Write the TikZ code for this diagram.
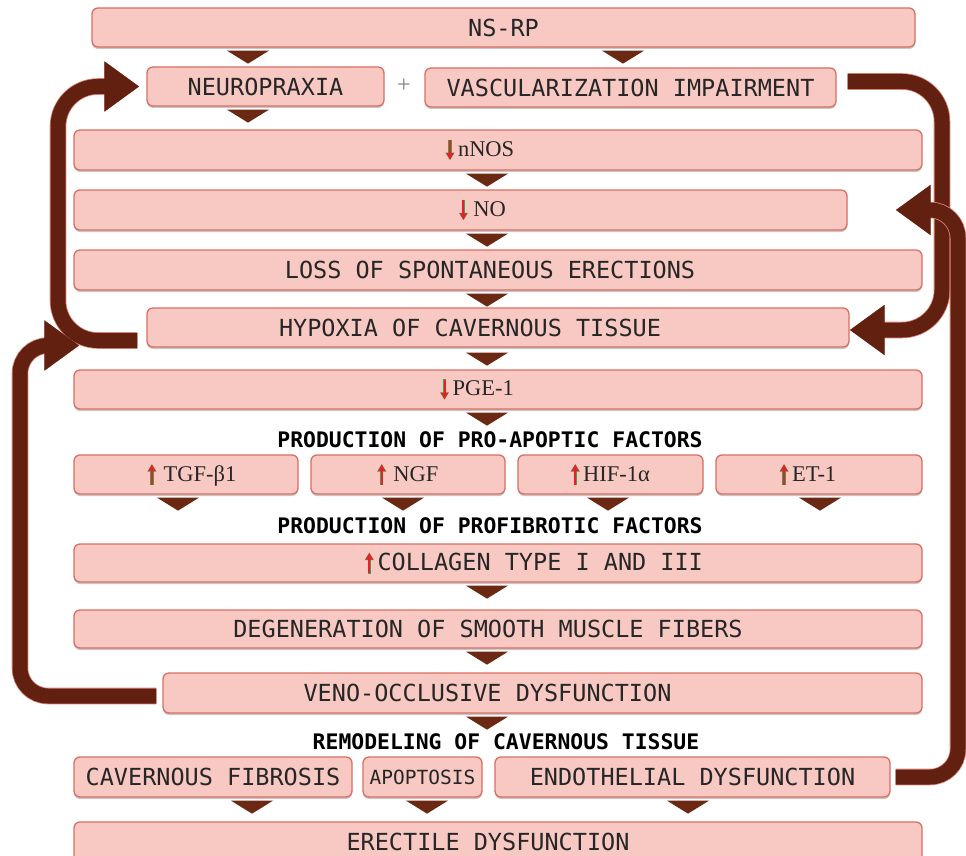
\documentclass[tikz,border=0pt]{standalone}
\usepackage{fontspec}
\setmainfont{Liberation Serif}
\setmonofont{DejaVu Sans Mono}
\usetikzlibrary{arrows.meta,shadows}
\definecolor{boxfill}{HTML}{F8C9C3}
\definecolor{boxline}{HTML}{DA6E62}
\definecolor{wedgebrown}{HTML}{6B2813}
\definecolor{loopbrown}{HTML}{622110}
\definecolor{inkred}{HTML}{E8202A}
\definecolor{inkgreen}{HTML}{3FA34D}
% small up / down marks in the text
\newcommand{\incr}{\tikz[baseline=0pt,x=1pt,y=1pt]{\draw[inkgreen,line width=3.2pt,-{Triangle[length=7.5pt,width=8.5pt]}] (0,-3.5) -- (0,17.5);\draw[inkred,line width=2pt,-{Triangle[length=6.5pt,width=7pt]}] (0,-3) -- (0,17);}}
\newcommand{\decr}{\tikz[baseline=0pt,x=1pt,y=1pt]{\draw[inkgreen,line width=3.2pt,-{Triangle[length=7.5pt,width=8.5pt]}] (0,16.5) -- (0,-4);\draw[inkred,line width=2pt,-{Triangle[length=6.5pt,width=7pt]}] (0,16) -- (0,-3.5);}}
% wedge under a box
\newcommand{\wedgeunder}[2]{\pic[yshift=-3pt] at (#2.south -| #1,0) {wedge};}
\begin{document}
\begin{tikzpicture}[x=1pt,y=-1pt,
  stage/.style={draw=boxline, fill=boxfill, line width=1.3pt, rounded corners=6pt,
    minimum height=39pt, inner sep=0pt, text=black!85,
    font=\ttfamily\fontsize{23.5}{27}\selectfont,
    drop shadow={shadow xshift=0pt, shadow yshift=-2pt, opacity=.22, fill=black}},
  serif/.style={font=\rmfamily\fontsize{22.5}{26}\selectfont},
  heading/.style={font=\ttfamily\bfseries\fontsize{21.4}{25}\selectfont, inner sep=0pt},
  feedback/.style={draw=loopbrown, line width=15pt, rounded corners=#1,
    preaction={draw=boxline!85, line width=16.6pt},
    -{Triangle[length=35pt,width=48pt]}},
  feedback/.default=40pt,
  wedge/.pic={\fill[wedgebrown] (-21,0) -- (21,0) -- (0,13) -- cycle;}]
\useasboundingbox (0,0) rectangle (966,856);

\node[stage, minimum width=823pt] (nsrp) at (503.5,27.5) {NS-RP};
\node[stage, minimum width=237pt] (neuro) at (265.5,86.5) {NEUROPRAXIA};
\node[font=\rmfamily\fontsize{24}{24}\selectfont, text=black!50] (plus) at (404,86) {+};
\node[stage, minimum width=411pt] (vasc) at (630.5,87.5) {VASCULARIZATION IMPAIRMENT};
\node[stage, serif, minimum width=848pt, minimum height=40pt] (nnos) at (498,150) {\hspace*{-36pt}\decr\,nNOS};
\node[stage, serif, minimum width=773pt, minimum height=40pt] (no) at (460.5,210) {\hspace*{44pt}\decr\ NO};
\node[stage, minimum width=848pt, minimum height=40pt] (loss) at (498,270) {\hspace*{-16pt}LOSS OF SPONTANEOUS ERECTIONS};
\node[stage, minimum width=702pt] (hypoxia) at (498,327.5) {\hspace*{-56pt}HYPOXIA OF CAVERNOUS TISSUE};
\node[stage, serif, minimum width=848pt] (pge) at (498,389.5) {\hspace*{-42pt}\decr\,PGE-1};

\node[heading] (head1) at (490,440) {PRODUCTION OF PRO-APOPTIC FACTORS};
\node[stage, serif, minimum width=224pt] (tgf) at (186,474.5) {\hspace*{12pt}\incr\,\,TGF-β1};
\node[stage, serif, minimum width=194pt] (ngf) at (408,474.5) {\incr\,\,NGF};
\node[stage, serif, minimum width=185pt] (hif) at (610.5,474.5) {\incr\,HIF-1α};
\node[stage, serif, minimum width=206pt] (et) at (819,474.5) {\hspace*{-22pt}\incr\,ET-1};

\node[heading] (head2) at (490,526) {PRODUCTION OF PROFIBROTIC FACTORS};
\node[stage, minimum width=848pt, minimum height=38pt] (coll) at (498,563) {\hspace*{72pt}\incr\,COLLAGEN TYPE I AND III};
\node[stage, minimum width=848pt, minimum height=38pt] (degen) at (498,629) {\hspace*{-20pt}DEGENERATION OF SMOOTH MUSCLE FIBERS};
\node[stage, minimum width=759pt, minimum height=40pt] (veno) at (542.5,693) {\hspace*{-110pt}VENO-OCCLUSIVE DYSFUNCTION};

\node[heading] (head3) at (506,742) {REMODELING OF CAVERNOUS TISSUE};
\node[stage, minimum width=278pt, minimum height=40pt] (fib) at (213,777) {CAVERNOUS FIBROSIS};
\node[stage, minimum width=119pt, minimum height=40pt, font=\ttfamily\fontsize{19.5}{24}\selectfont] (apop) at (422.5,777) {APOPTOSIS};
\node[stage, minimum width=395pt, minimum height=40pt] (endo) at (692.5,777) {ENDOTHELIAL DYSFUNCTION};
\node[stage, minimum width=848pt, minimum height=40pt] (erect) at (498,842) {\hspace*{-20pt}ERECTILE DYSFUNCTION};

% wedges between the boxes
\wedgeunder{248}{nsrp}
\wedgeunder{623}{nsrp}
\wedgeunder{248}{neuro}
\wedgeunder{487}{nnos}
\wedgeunder{487}{no}
\wedgeunder{487}{loss}
\pic[yshift=-5pt] at (hypoxia.south -| 487,0) {wedge};
\wedgeunder{487}{pge}
\wedgeunder{178}{tgf}
\wedgeunder{403}{ngf}
\wedgeunder{608}{hif}
\wedgeunder{820}{et}
\wedgeunder{487}{coll}
\wedgeunder{487}{degen}
\wedgeunder{487}{veno}
\wedgeunder{252}{fib}
\wedgeunder{427}{apop}
\wedgeunder{688}{endo}

% feedback loops
\coordinate (a0) at ([xshift=-9pt,yshift=-13pt]hypoxia.west);
\draw[feedback] (a0) -- (a0 -| 58,0) -- (58,0 |- neuro.west) -- ([xshift=-7pt]neuro.west);
\coordinate (b0) at ([xshift=-6pt,yshift=-3pt]veno.west);
\coordinate (b1) at ([xshift=-67pt,yshift=-18pt]hypoxia.west);
\draw[feedback=28pt] (b0) -- (b0 -| 20,0) -- (20,0 |- b1) -- (b1);
\coordinate (c0) at ([xshift=11pt,yshift=6pt]vasc.east);
\coordinate (c1) at ([yshift=-2.5pt]hypoxia.east);
\draw[feedback] (c0) -- (c0 -| 942,0) -- (942,0 |- c1) -- (c1);
\coordinate (d0) at ([xshift=5pt]endo.east);
\coordinate (d1) at ([xshift=48pt]no.east);
\draw[feedback=28pt] (d0) -- (d0 -| 958,0) -- (958,0 |- d1) -- (d1);
\end{tikzpicture}
\end{document}
